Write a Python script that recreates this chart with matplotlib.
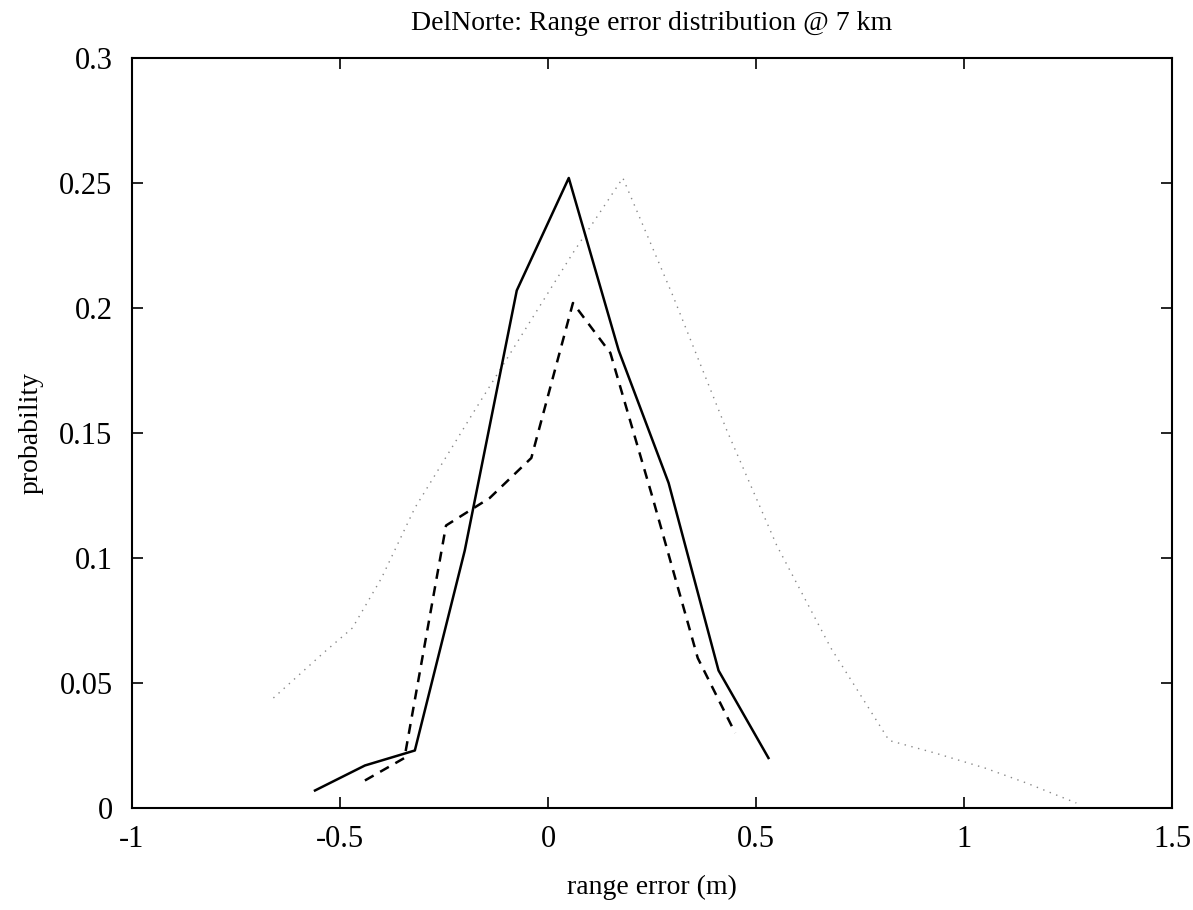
import numpy as np
import matplotlib
matplotlib.use('Agg')
import matplotlib.pyplot as plt

# solid curve
x_solid = [-0.56, -0.44, -0.32, -0.20, -0.075, 0.05, 0.17, 0.29, 0.41, 0.53]
p_solid = [0.007, 0.017, 0.023, 0.103, 0.207, 0.252, 0.183, 0.130, 0.055, 0.020]

# dashed curve
x_dash = [-0.44, -0.345, -0.245, -0.14, -0.04, 0.06, 0.15, 0.25, 0.36, 0.45]
p_dash = [0.011, 0.020, 0.113, 0.124, 0.140, 0.202, 0.182, 0.125, 0.060, 0.030]

# dotted curve
x_dot = [-0.66, -0.54, -0.47, -0.40, -0.32, -0.18, -0.06, 0.06, 0.18,
         0.30, 0.43, 0.55, 0.68, 0.82, 0.93, 1.05, 1.15, 1.27]
p_dot = [0.044, 0.062, 0.072, 0.092, 0.120, 0.158, 0.190, 0.222, 0.252,
         0.205, 0.151, 0.105, 0.064, 0.027, 0.022, 0.016, 0.010, 0.002]

plt.rcParams['font.family'] = ['Liberation Serif', 'DejaVu Serif']

fig = plt.figure(figsize=(11.93, 9.10), dpi=100)
ax = fig.add_axes([0.1106, 0.1121, 0.8718, 0.8242])

ax.plot(x_dot, p_dot, color='#888888', lw=1.0, linestyle=(0, (1, 4)))
ax.plot(x_solid, p_solid, color='black', lw=1.8, linestyle='-')
ax.plot(x_dash, p_dash, color='black', lw=1.8, linestyle=(0, (4, 3)))

ax.set_xlim(-1, 1.5)
ax.set_ylim(0, 0.3)
ax.set_xticks([-1, -0.5, 0, 0.5, 1, 1.5])
ax.set_xticklabels(['-1', '-0.5', '0', '0.5', '1', '1.5'])
ax.set_yticks([0, 0.05, 0.1, 0.15, 0.2, 0.25, 0.3])
ax.set_yticklabels(['0', '0.05', '0.1', '0.15', '0.2', '0.25', '0.3'])
ax.tick_params(direction='in', length=8, width=1.2, top=True, right=True,
               labelsize=22)
ax.tick_params(axis='y', pad=14)
ax.tick_params(axis='x', pad=12)
for s in ax.spines.values():
    s.set_linewidth(1.5)

ax.set_title('DelNorte: Range error distribution @ 7 km', fontsize=20, pad=20)
ax.set_xlabel('range error (m)', fontsize=20, labelpad=15)
ax.set_ylabel('probability', fontsize=20, labelpad=11)

fig.savefig('out.png', dpi=100)
